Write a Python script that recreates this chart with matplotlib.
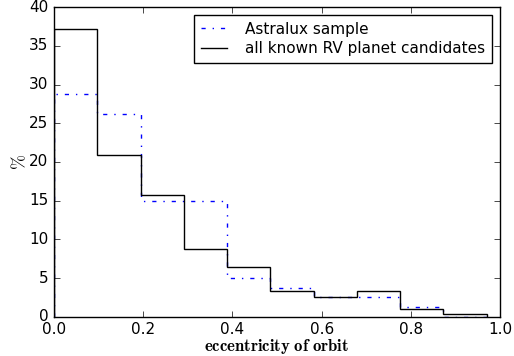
import matplotlib
matplotlib.use("Agg")
import matplotlib.pyplot as plt

plt.style.use('classic')
plt.rcParams['mathtext.fontset'] = 'cm'

edges = [0.0, 0.097, 0.194, 0.291, 0.388, 0.485, 0.582, 0.679, 0.776, 0.873, 0.970]
astralux = [28.75, 26.25, 15.0, 15.0, 5.0, 3.75, 2.5, 2.5, 1.25, 0.0]
all_rv = [37.2, 20.9, 15.8, 8.7, 6.5, 3.3, 2.5, 3.35, 1.0, 0.4]

fig = plt.figure(figsize=(5.14, 3.56), dpi=100)
fig.patch.set_facecolor('white')
ax = fig.add_axes([0.105, 0.110, 0.868, 0.870])

ax.stairs(astralux, edges, baseline=0, color='blue', linestyle='-.', linewidth=1.0,
          label='Astralux sample')
ax.stairs(all_rv, edges, baseline=0, color='black', linestyle='-', linewidth=1.0,
          label='all known RV planet candidates')

ax.set_xlim(0, 1.0)
ax.set_ylim(0, 40)
ax.set_xticks([0.0, 0.2, 0.4, 0.6, 0.8, 1.0])
ax.set_yticks([0, 5, 10, 15, 20, 25, 30, 35, 40])
ax.tick_params(labelsize=11, pad=4)
ax.set_xlabel(r'$\mathbf{eccentricity\ of\ orbit}$', fontsize=12, labelpad=0)
ax.set_ylabel(r'$\%$', fontsize=13, labelpad=0)

leg = ax.legend(loc='upper right', fontsize=11, handlelength=1.7, handletextpad=1.2,
                borderpad=0.45, labelspacing=0.3)
leg.get_frame().set_linewidth(1.0)

fig.savefig('out.png', dpi=100, facecolor='white')
